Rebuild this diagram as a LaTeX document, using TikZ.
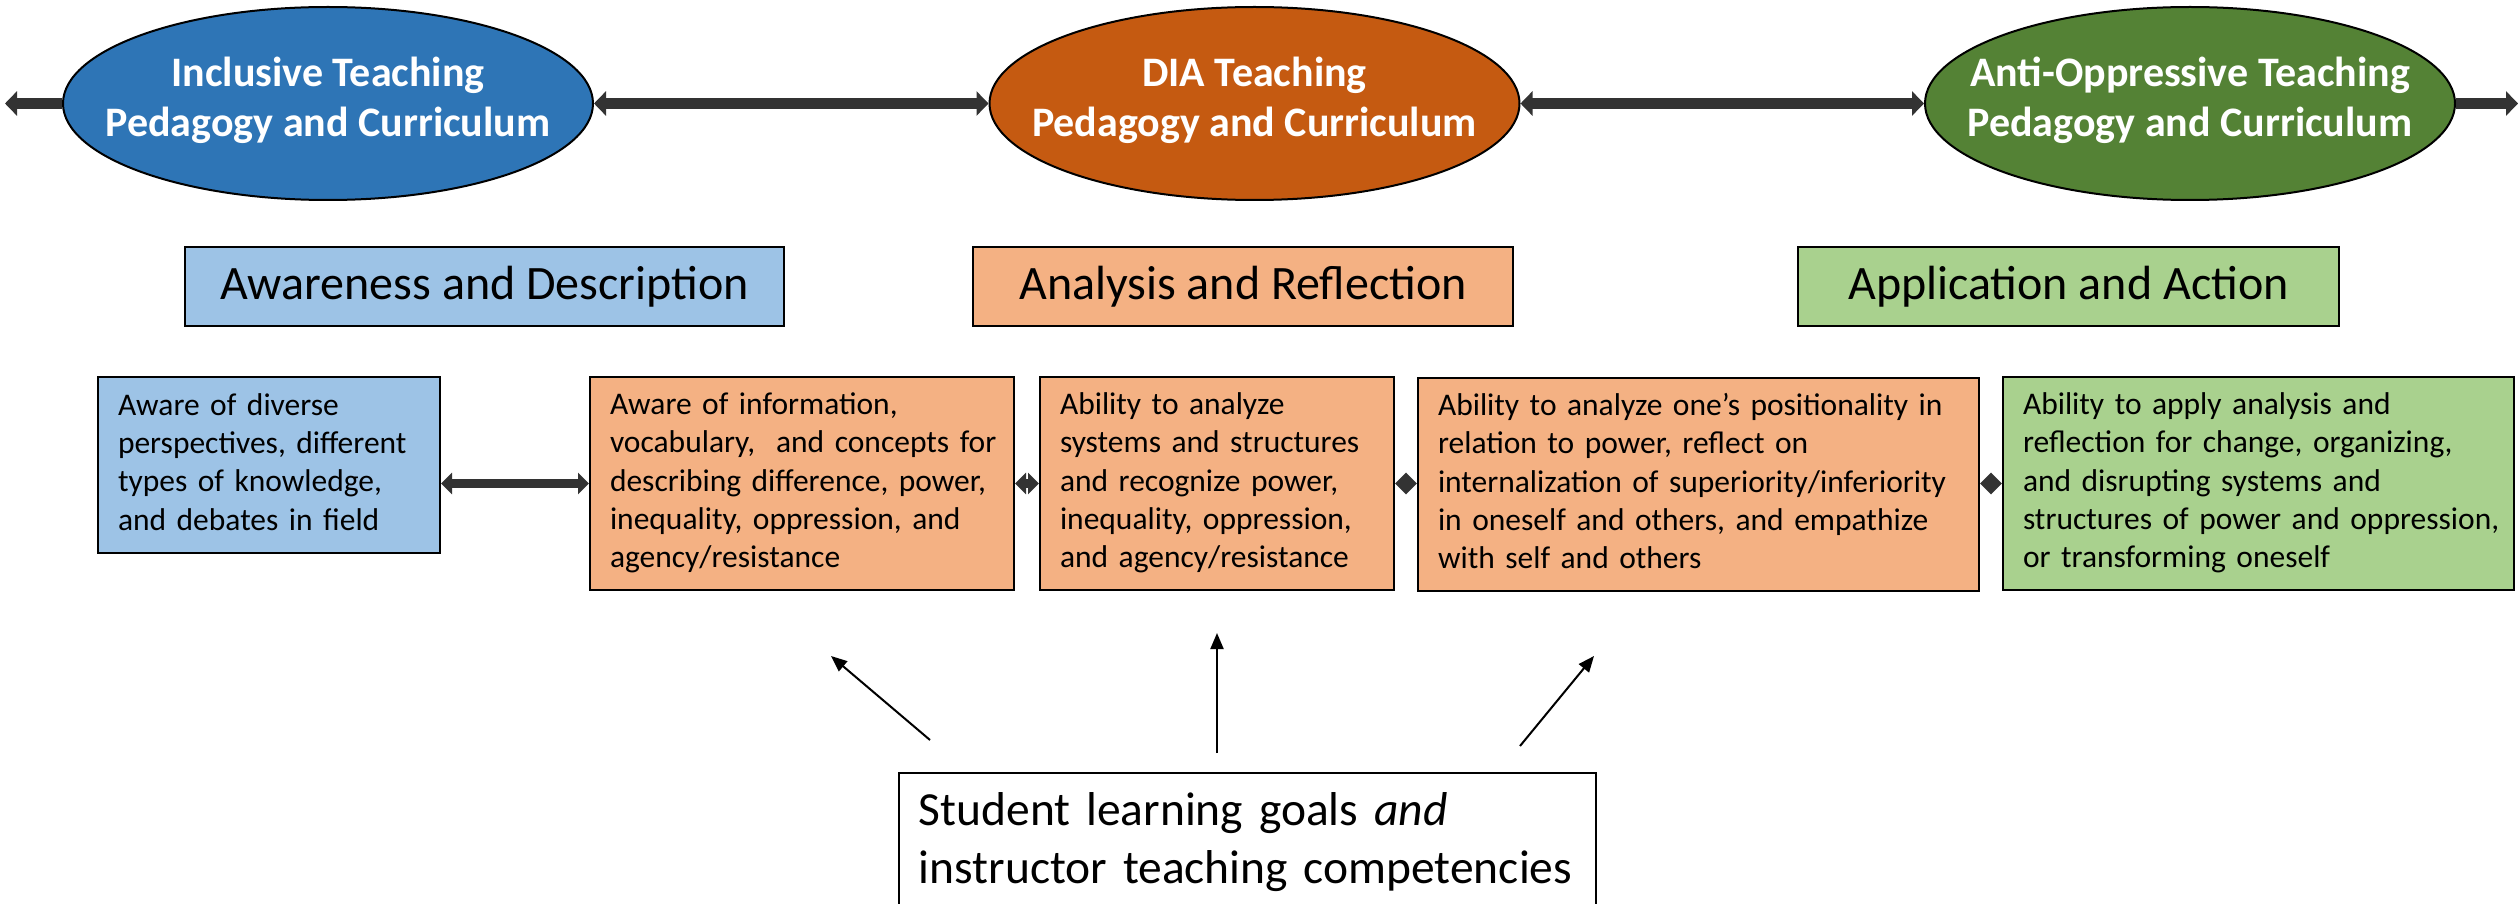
\documentclass[tikz,border=0pt]{standalone}
\usepackage{fontspec}
\setmainfont{Carlito}
\usetikzlibrary{arrows.meta,shapes.geometric}

\definecolor{incblue}{HTML}{2E75B6}
\definecolor{diaorange}{HTML}{C55A11}
\definecolor{antigreen}{HTML}{548235}
\definecolor{lightblue}{HTML}{9DC3E6}
\definecolor{lightorange}{HTML}{F4B183}
\definecolor{lightgreen}{HTML}{A9D18E}
\definecolor{arrowgray}{HTML}{333333}

% a block of fixed lines that never wraps
\newcommand{\linesblock}[1]{\begin{tabular}{@{}l@{}}#1\end{tabular}}

\begin{document}
\begin{tikzpicture}[x=1pt,y=-1pt,
  oval/.style={ellipse, draw=black, line width=2pt, minimum width=530pt,
    minimum height=193pt, inner sep=0pt},
  ovaltext/.style={text=white, align=center,
    font=\fontsize{42}{50}\selectfont\bfseries},
  stagebox/.style={draw=black, line width=2pt, minimum height=79pt,
    inner sep=0pt, font=\fontsize{48}{58}\selectfont},
  itembox/.style={draw=black, line width=2pt, inner xsep=20pt, inner ysep=0pt,
    align=left, font=\fontsize{31.5}{38.3}\selectfont},
  goalbox/.style={draw=black, line width=1.5pt, fill=white, inner xsep=20pt,
    inner ysep=0pt, align=left, font=\fontsize{47.5}{58}\selectfont},
  toplink/.style={draw=arrowgray, line width=11pt},
  toptip/.tip={Triangle[length=12pt,width=24pt]},
  rowlink/.style={draw=arrowgray, line width=9pt},
  rowtip/.tip={Triangle[length=11pt,width=21pt]},
  pointer/.style={draw=black, line width=2pt, -{Triangle[length=16pt,width=13pt]}}
]
\useasboundingbox (0,0) rectangle (2519,904);

% top row: the three pedagogy ovals
\node[oval, fill=incblue]   (inc)  at (328,103.5)  {};
\node[oval, fill=diaorange] (dia)  at (1254.5,103.5) {};
\node[oval, fill=antigreen] (anti) at (2190,103.5) {};
\node[ovaltext] (inctext)  at (328,100)    {Inclusive Teaching\\Pedagogy and Curriculum};
\node[ovaltext] (diatext)  at (1254.5,100) {DIA Teaching\\Pedagogy and Curriculum};
\node[ovaltext] (antitext) at (2190,100)   {Anti-Oppressive Teaching\\Pedagogy and Curriculum};

\coordinate (edgeL) at (5,103.5);
\coordinate (edgeR) at (2518,103.5);
\draw[toplink, -toptip] (inc.west) -- (edgeL);
\draw[toplink, toptip-toptip] (inc.east) -- (dia.west);
\draw[toplink, toptip-toptip] (dia.east) -- (anti.west);
\draw[toplink, -toptip] (anti.east) -- (edgeR);

% stage headings
\node[stagebox, fill=lightblue,   minimum width=599pt] (aware)   at (484.5,286.5)  {Awareness and Description};
\node[stagebox, fill=lightorange, minimum width=540pt] (analyse) at (1243,286.5)   {Analysis and Reflection};
\node[stagebox, fill=lightgreen,  minimum width=541pt] (apply)   at (2068.5,286.5) {Application and Action};

% competency boxes
\node[itembox, fill=lightblue, text width=302pt, minimum height=176pt] (c1) at (269,465)
  {\linesblock{Aware of diverse\\perspectives, different\\types of knowledge,\\and debates in field}};
\node[itembox, fill=lightorange, text width=384pt, minimum height=213pt] (c2) at (802,483.5)
  {\linesblock{Aware of information,\\vocabulary,\ \ and concepts for\\describing difference, power,\\inequality, oppression, and\\agency/resistance}};
\node[itembox, fill=lightorange, text width=314pt, minimum height=213pt] (c3) at (1217,483.5)
  {\linesblock{Ability to analyze\\systems and structures\\and recognize power,\\inequality, oppression,\\and agency/resistance}};
\node[itembox, fill=lightorange, text width=521pt, minimum height=213pt] (c4) at (1698.5,484.5)
  {\linesblock{Ability to analyze one’s positionality in\\relation to power, reflect on\\internalization of superiority/inferiority\\in oneself and others, and empathize\\with self and others}};
\node[itembox, fill=lightgreen, text width=471pt, minimum height=213pt] (c5) at (2258.5,483.5)
  {\linesblock{Ability to apply analysis and\\reflection for change, organizing,\\and disrupting systems and\\structures of power and oppression,\\or transforming oneself}};

\draw[rowlink, rowtip-rowtip] (c1.east |- c2.west) -- (c2.west);
\draw[rowlink, rowtip-rowtip] (c2.east) -- (c3.west);
\draw[rowlink, rowtip-rowtip] (c3.east) -- (c4.west |- c3.east);
\draw[rowlink, rowtip-rowtip] (c4.east |- c5.west) -- (c5.west);

% learning goals box and its pointers
\node[goalbox, anchor=north west, text width=657pt, minimum height=141pt] (goal) at (898,772)
  {\linesblock{Student learning goals \textit{and}\\instructor teaching competencies}};

\coordinate (g1s) at (930,740);  \coordinate (g1e) at (831,656);
\coordinate (g2s) at (1217,753); \coordinate (g2e) at (1217,633);
\coordinate (g3s) at (1520,746); \coordinate (g3e) at (1594,656);
\draw[pointer] (g1s) -- (g1e);
\draw[pointer] (g2s) -- (g2e);
\draw[pointer] (g3s) -- (g3e);
\end{tikzpicture}
\end{document}
